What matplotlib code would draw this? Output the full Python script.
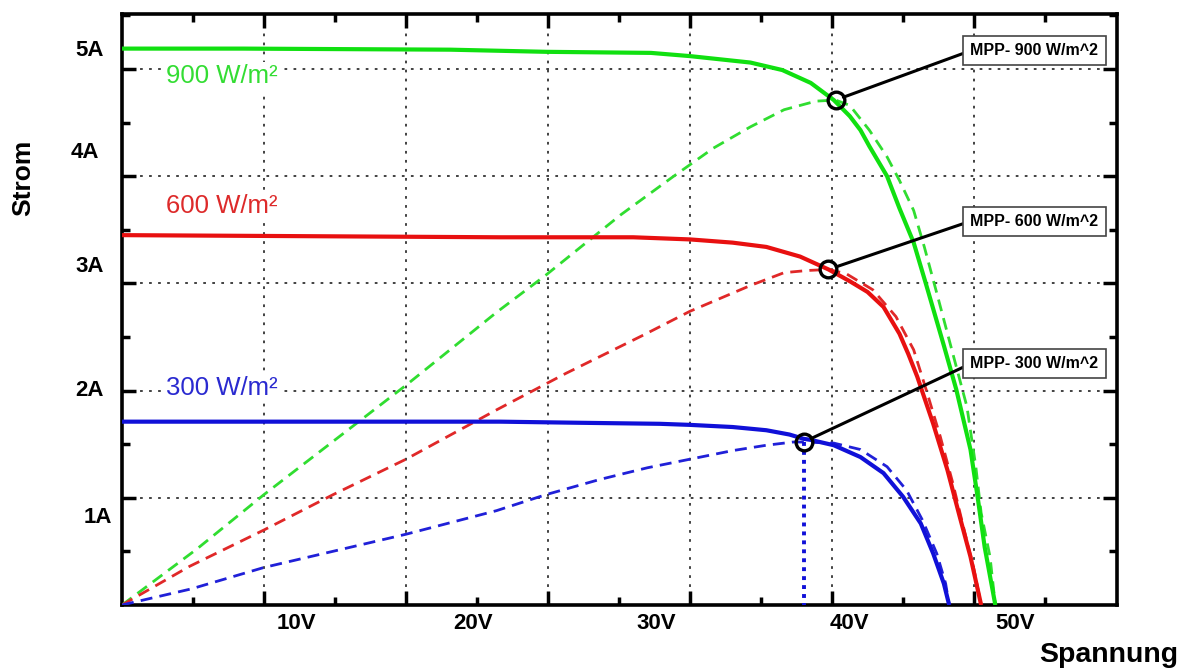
import matplotlib.pyplot as plt

plt.rcParams['font.family'] = ['Liberation Sans', 'DejaVu Sans']

# I-V curves (solid) and power curves (dashed)
v_900 = [0, 6.8, 18.5, 23.9, 29.8, 32.0, 35.4, 37.2, 38.8, 40.1, 41.0, 41.6, 42.1, 43.1, 43.8, 44.6, 45.3, 46.3, 47.0, 47.8, 48.2, 48.6, 49.2]
i_900 = [5.19, 5.19, 5.18, 5.16, 5.15, 5.12, 5.06, 4.99, 4.87, 4.71, 4.56, 4.43, 4.28, 4.0, 3.70, 3.38, 2.99, 2.42, 2.01, 1.45, 1.01, 0.54, 0]
pv_900 = [0, 4.2, 8.0, 16.0, 21.1, 23.9, 26.6, 28.1, 31.0, 33.3, 35.4, 37.3, 39.1, 40.2, 41.0, 42.1, 43.1, 43.8, 44.6, 45.2, 45.9, 46.7, 47.6, 48.1, 48.4, 48.9, 49.2]
p_900 = [0, 0.52, 1.03, 2.05, 2.73, 3.08, 3.44, 3.64, 3.99, 4.26, 4.46, 4.62, 4.70, 4.71, 4.66, 4.43, 4.18, 3.96, 3.68, 3.34, 2.91, 2.41, 1.85, 1.29, 0.86, 0.45, 0]

v_600 = [0, 21.3, 28.8, 32.0, 34.4, 36.3, 38.2, 39.8, 41.0, 42.0, 42.9, 43.8, 44.3, 44.8, 45.7, 46.5, 47.2, 47.8, 48.4]
i_600 = [3.45, 3.43, 3.43, 3.41, 3.38, 3.34, 3.25, 3.13, 3.02, 2.92, 2.78, 2.53, 2.34, 2.13, 1.69, 1.26, 0.82, 0.45, 0]
pv_600 = [0, 3.8, 8.0, 11.9, 16.0, 21.1, 25.0, 29.4, 32.0, 35.4, 37.3, 38.6, 39.8, 40.8, 42.3, 43.6, 44.6, 45.3, 46.1, 46.8, 47.4, 48.0, 48.4]
p_600 = [0, 0.36, 0.70, 1.03, 1.36, 1.82, 2.16, 2.52, 2.74, 2.98, 3.10, 3.12, 3.13, 3.09, 2.94, 2.69, 2.38, 2.01, 1.57, 1.14, 0.73, 0.33, 0]

v_300 = [0, 21.3, 25.6, 30.3, 32.0, 34.4, 36.3, 37.6, 38.4, 38.8, 40.1, 41.6, 42.9, 44.0, 45.0, 45.7, 46.3, 46.6]
i_300 = [1.71, 1.71, 1.70, 1.69, 1.68, 1.66, 1.63, 1.59, 1.55, 1.54, 1.49, 1.38, 1.23, 1.01, 0.76, 0.48, 0.20, 0]
pv_300 = [0, 3.9, 8.0, 16.0, 21.1, 23.9, 26.9, 29.6, 32.0, 34.4, 36.3, 37.8, 38.4, 40.1, 41.6, 43.1, 44.2, 45.1, 45.9, 46.4, 46.6]
p_300 = [0, 0.15, 0.35, 0.66, 0.88, 1.03, 1.17, 1.28, 1.36, 1.44, 1.49, 1.52, 1.52, 1.51, 1.45, 1.29, 1.07, 0.79, 0.48, 0.20, 0]

mpp_v = [40.2, 39.8, 38.4]
mpp_i = [4.71, 3.13, 1.52]
mpp_text = ["MPP- 900 W/m^2", "MPP- 600 W/m^2", "MPP- 300 W/m^2"]
box_i = [5.17, 3.58, 2.25]

labels = ["900 W/m²", "600 W/m²", "300 W/m²"]
label_i = [4.93, 3.72, 2.02]

xtick_pos = [9.8, 19.8, 30.1, 41.0, 50.3]
xtick_text = ["10V", "20V", "30V", "40V", "50V"]
ytick_pos = [5.17, 4.22, 3.16, 2.0, 0.82]
ytick_text = ["5A", "4A", "3A", "2A", "1A"]
ytick_x = [-0.018, -0.023, -0.018, -0.018, -0.010]

line_cols = ['#10e010', '#e81010', '#1010d8']
dash_cols = ['#30dd30', '#e02828', '#2020d8']
text_cols = ['#33dd33', '#dd2a2a', '#2a2ad0']

fig = plt.figure(figsize=(11.86, 6.69), dpi=100)
ax = fig.add_axes([0.1029, 0.0957, 0.8387, 0.8834])

curves = [(v_900, i_900, pv_900, p_900), (v_600, i_600, pv_600, p_600), (v_300, i_300, pv_300, p_300)]
for k, (v, i, pv, p) in enumerate(curves):
    ax.plot(pv, p, color=dash_cols[k], lw=2, linestyle=(0, (4.3, 2.6)), zorder=3)
    ax.plot(v, i, color=line_cols[k], lw=3, zorder=4, solid_capstyle='butt', solid_joinstyle='round')
    ax.text(2.5, label_i[k], labels[k], color=text_cols[k], fontsize=18.5, va='center', ha='left',
            bbox=dict(boxstyle='square,pad=0.1', fc='white', ec='none'), zorder=2.5)

# dotted drop line at the 300 W/m^2 MPP
ax.plot([mpp_v[2], mpp_v[2]], [mpp_i[2], 0], color='#1010d8', lw=2.8, linestyle=(0, (1, 1.3)), zorder=4)

for k in range(3):
    ax.annotate(mpp_text[k], xy=(mpp_v[k], mpp_i[k]), xytext=(47.8, box_i[k]),
                ha='left', va='center', fontsize=11.5, fontweight='bold',
                bbox=dict(boxstyle='square,pad=0.45', fc='white', ec='#444444', lw=1.2),
                arrowprops=dict(arrowstyle='-', color='black', lw=2.2, shrinkA=0, shrinkB=6, relpos=(0, 0.5)),
                zorder=6)
ax.plot(mpp_v, mpp_i, 'o', ms=12, mfc='none', mec='black', mew=2.4, zorder=7)

ax.set_xlim(0, 56.04)
ax.set_ylim(0, 5.513)
ax.set_xticks([8, 16, 24, 32, 40, 48])
ax.set_xticks([4, 12, 20, 28, 36, 44, 52], minor=True)
ax.set_yticks([1, 2, 3, 4, 5])
ax.set_yticks([0.5, 1.5, 2.5, 3.5, 4.5, 5.5], minor=True)
ax.tick_params(which='both', direction='in', top=True, right=True, labelbottom=False, labelleft=False, color='black')
ax.tick_params(which='major', length=10, width=2.5)
ax.tick_params(which='minor', length=6, width=2.5)
ax.grid(True, which='major', color='#333333', lw=1.3, linestyle=(0, (1.5, 3.5)))
for s in ax.spines.values():
    s.set_linewidth(2.6)

for x, t in zip(xtick_pos, xtick_text):
    ax.text(x, -0.032, t, transform=ax.get_xaxis_transform(), ha='center', va='center', fontsize=16, fontweight='bold')
for x, y, t in zip(ytick_x, ytick_pos, ytick_text):
    ax.text(x, y, t, transform=ax.get_yaxis_transform(), ha='right', va='center', fontsize=16, fontweight='bold')

ax.text(-0.099, 0.7225, "Strom", transform=ax.transAxes, rotation=90, ha='center', va='center', fontsize=19, fontweight='bold')
ax.text(0.992, -0.0846, "Spannung", transform=ax.transAxes, ha='center', va='center', fontsize=20.5, fontweight='bold', clip_on=False)

plt.savefig("out.png", dpi=100)
